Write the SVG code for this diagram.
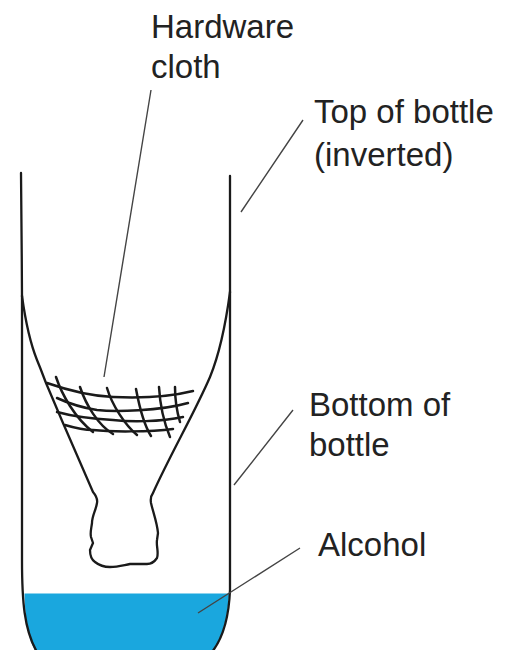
<svg xmlns="http://www.w3.org/2000/svg" width="506" height="650" viewBox="0 0 506 650">
<style>.l{fill:none;stroke:#1a1a1a;stroke-width:2.3;stroke-linecap:round;stroke-linejoin:round}.c{fill:none;stroke:#1a1a1a;stroke-width:2.5;stroke-linecap:round}.t{fill:none;stroke:#444;stroke-width:1.4}text{font-family:"Liberation Sans",Arial,sans-serif;font-size:33px;fill:#222}</style>
<rect width="506" height="650" fill="#fff"/>
<path d="M24.500 593.500H229C228 618 222 638 212 652H36C28 640 25 618 24.500 593.500Z" fill="#1aa7de"/>
<g id="top-of-bottle">
<path class="l" d="M21 173C21 215 22 255 22 296"/>
<path class="l" d="M230 176C230 215 230 255 230 292"/>
</g>
<g id="bottom-of-bottle">
<path class="l" d="M22 296V560C22 600 24 630 37 652"/>
<path class="l" d="M230 292V590C229 615 223 638 212 652"/>
</g>
<g id="funnel">
<path class="l" d="M22 296C26 325 31 345 37 360C42 372 44 378 46 383L63 423L93 492Q98 498 97 503C96 510 92 516 92 523C91 530 90 533 91 537L93 543L90 550C90 556 92 560 95 562C100 566 105 567 110 567C118 567 124 565 130 564L147 564C151 564 155 561 157 558C159 552 156 546 157 540L158 533C157 522 153 512 151 503Q150 497 153 493C170 455 195 412 210 377C219 355 226 322 230 292"/>
</g>
<g id="cloth">
<path class="c" d="M47 383C70 391 90 396 113 397C135 398 165 398 193 391"/>
<path class="c" d="M57 398C70 404 84 408 97 410C115 412 160 411 188 403"/>
<path class="c" d="M57 412C75 417 95 419 113 420C130 422 160 422 183 417"/>
<path class="c" d="M65 425C75 428 85 430 93 430C110 432 150 432 173 429"/>
<path class="c" d="M56 377C62 395 75 418 93 432"/>
<path class="c" d="M80 387C86 405 98 425 113 434"/>
<path class="c" d="M107 388C112 405 125 425 137 435"/>
<path class="c" d="M136 389C139 405 144 425 151 436"/>
<path class="c" d="M159 387C160 405 165 425 170 437"/>
<path class="c" d="M175 387C175 400 177 412 180 422"/>
</g>
<g id="connectors">
<path class="t" d="M151 90L104 377M303 120L241 212M293 410L234 485M300 548L198 613"/>
</g>
<g id="labels">
<text x="151" y="38">Hardware</text><text x="151" y="78">cloth</text>
<text x="314" y="123">Top of bottle</text><text x="314" y="166">(inverted)</text>
<text x="309" y="416">Bottom of</text><text x="309" y="456">bottle</text>
<text x="318" y="556">Alcohol</text>
</g>
</svg>
